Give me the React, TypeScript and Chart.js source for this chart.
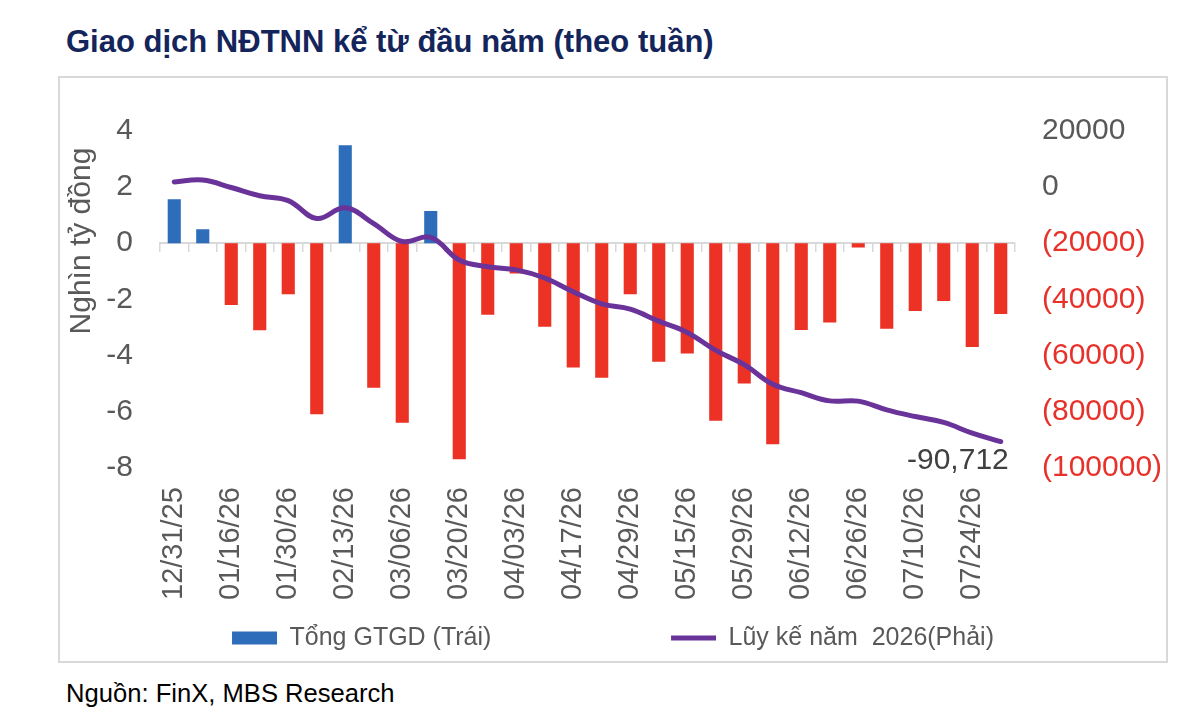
import { useEffect, useRef } from 'react';
import { Chart, registerables } from 'chart.js';

Chart.register(...registerables);

// ---- data ----
const CATEGORIES = [
  '12/31/25', '01/09/26', '01/16/26', '01/23/26', '01/30/26', '02/06/26', '02/13/26', '02/27/26',
  '03/06/26', '03/13/26', '03/20/26', '03/27/26', '04/03/26', '04/10/26', '04/17/26', '04/24/26',
  '04/29/26', '05/08/26', '05/15/26', '05/22/26', '05/29/26', '06/05/26', '06/12/26', '06/19/26',
  '06/26/26', '07/03/26', '07/10/26', '07/17/26', '07/24/26', '07/31/26',
];

// Tổng GTGD (nghìn tỷ đồng), left axis
const NET_VALUE = [
  1.57, 0.5, -2.2, -3.1, -1.82, -6.1, 3.49, -5.15, -6.4, 1.15,
  -7.7, -2.55, -1.08, -2.98, -4.43, -4.8, -1.82, -4.23, -3.93, -6.33,
  -5.0, -7.17, -3.09, -2.83, -0.15, -3.05, -2.42, -2.06, -3.7, -2.52,
];

// Lũy kế năm 2026 (tỷ đồng), right axis
const CUMULATIVE = [
  1850, 2500, -150, -3100, -4800, -11200, -7400, -13000, -19400, -17900,
  -26000, -28400, -29500, -32400, -37300, -41600, -43500, -47800, -51800, -58200,
  -63300, -70300, -73300, -76200, -76300, -79400, -81800, -83900, -87700, -90712,
];

const LEFT_MIN = -8;
const LEFT_MAX = 4;
const LEFT_STEP = 2;
const RIGHT_MIN = -100000;
const RIGHT_MAX = 20000;
const RIGHT_STEP = 20000;

const TITLE = 'Giao dịch NĐTNN kể từ đầu năm (theo tuần)';
const Y_TITLE = 'Nghìn tỷ đồng';
const LEGEND_BAR = 'Tổng GTGD (Trái)';
const LEGEND_LINE = 'Lũy kế năm  2026(Phải)';
const SOURCE = 'Nguồn: FinX, MBS Research';

// ---- styles ----
const FONT = '"Liberation Sans", Arial, Helvetica, sans-serif';
const GRAY = '#595959';
const RED = '#e8312a';
const BAR_RED = '#ec3125';
const BLUE = '#2e6dba';
const PURPLE = '#6a3399';
const BORDER = '#d9d9d9';

export default function App() {
  const canvasRef = useRef<HTMLCanvasElement>(null);

  useEffect(() => {
    const canvas = canvasRef.current;
    if (!canvas) return;

    const lastLabel = {
      id: 'lastLabel',
      afterDatasetsDraw(chart: any) {
        const meta = chart.getDatasetMeta(1);
        const pt = meta.data[meta.data.length - 1];
        if (!pt) return;
        const v = CUMULATIVE[CUMULATIVE.length - 1];
        const ctx = chart.ctx;
        ctx.save();
        ctx.font = `30px ${FONT}`;
        ctx.fillStyle = '#404040';
        ctx.textAlign = 'right';
        ctx.textBaseline = 'middle';
        ctx.fillText(v.toLocaleString('en-US'), pt.x + 8, pt.y + 19);
        ctx.restore();
      },
    };

    const chart = new Chart(canvas, {
      type: 'bar',
      data: {
        labels: CATEGORIES,
        datasets: [
          {
            type: 'bar',
            label: LEGEND_BAR,
            data: NET_VALUE,
            backgroundColor: NET_VALUE.map((v) => (v >= 0 ? BLUE : BAR_RED)),
            borderWidth: 0,
            xAxisID: 'x',
            yAxisID: 'y',
            categoryPercentage: 1,
            barPercentage: 0.46,
            order: 2,
          },
          {
            type: 'line',
            label: LEGEND_LINE,
            data: CUMULATIVE,
            borderColor: PURPLE,
            backgroundColor: PURPLE,
            borderWidth: 5,
            pointRadius: 0,
            tension: 0.4,
            borderCapStyle: 'round',
            xAxisID: 'x',
            yAxisID: 'y1',
            order: 1,
          } as any,
        ],
      },
      options: {
        responsive: false,
        animation: false,
        layout: { padding: { top: 53, bottom: 0.5, left: 0, right: 0 } },
        plugins: {
          tooltip: { enabled: false },
          legend: {
            position: 'bottom',
            align: 'center',
            labels: {
              usePointStyle: true,
              pointStyleWidth: 45,
              boxHeight: 13,
              padding: 6,
              color: GRAY,
              font: { family: FONT, size: 25 },
              generateLabels: () => [
                {
                  text: LEGEND_BAR + '\u00A0'.repeat(25),
                  fillStyle: BLUE,
                  strokeStyle: BLUE,
                  lineWidth: 0,
                  pointStyle: 'rect',
                  datasetIndex: 0,
                  fontColor: GRAY,
                  hidden: false,
                },
                {
                  text: LEGEND_LINE,
                  fillStyle: PURPLE,
                  strokeStyle: PURPLE,
                  lineWidth: 5,
                  pointStyle: 'line',
                  datasetIndex: 1,
                  fontColor: GRAY,
                  hidden: false,
                },
              ] as any,
            },
          },
        },
        scales: {
          x: {
            type: 'category',
            position: 'bottom',
            offset: true,
            grid: { display: false, drawTicks: false },
            border: { display: false },
            ticks: {
              autoSkip: false,
              minRotation: 90,
              maxRotation: 90,
              padding: 19.5,
              color: GRAY,
              font: { family: FONT, size: 29 },
              callback: (_v: any, i: number) => (i % 2 === 0 ? CATEGORIES[i] : ''),
            },
          },
          x0: {
            type: 'category',
            position: { y: 0 } as any,
            offset: true,
            grid: {
              display: true,
              offset: true,
              drawOnChartArea: false,
              drawTicks: true,
              tickLength: 8,
              color: BORDER,
              lineWidth: 1.5,
            },
            border: { display: true, color: BORDER, width: 2 },
            ticks: { display: false },
          },
          y: {
            type: 'linear',
            position: 'left',
            min: LEFT_MIN,
            max: LEFT_MAX,
            grid: { display: false, drawTicks: false },
            border: { display: false },
            ticks: {
              stepSize: LEFT_STEP,
              padding: 27,
              color: GRAY,
              font: { family: FONT, size: 30 },
            },
            title: {
              display: true,
              text: Y_TITLE + '\u00A0\u00A0',
              align: 'end',
              color: GRAY,
              font: { family: FONT, size: 30, lineHeight: 1.2 },
              padding: { top: 4, bottom: 0 },
            },
            afterFit: (s: any) => {
              s.width = 100;
            },
          },
          y1: {
            type: 'linear',
            position: 'right',
            min: RIGHT_MIN,
            max: RIGHT_MAX,
            grid: { display: false, drawTicks: false },
            border: { display: false },
            ticks: {
              stepSize: RIGHT_STEP,
              padding: 27,
              color: (c: any) => (c.tick && c.tick.value < 0 ? RED : GRAY),
              font: { family: FONT, size: 30 },
              callback: (v: any) => (Number(v) < 0 ? `(${-Number(v)})` : `${v}`),
            },
            afterFit: (s: any) => {
              s.width = 151;
            },
          },
        },
      } as any,
      plugins: [lastLabel],
    });

    return () => chart.destroy();
  }, []);

  return (
    <div
      style={{
        position: 'absolute',
        left: 0,
        top: 0,
        width: 1200,
        height: 716,
        background: '#ffffff',
        fontFamily: FONT,
        overflow: 'hidden',
      }}
    >
      <div
        style={{
          position: 'absolute',
          left: 66,
          top: 24,
          fontSize: 31,
          lineHeight: '36px',
          fontWeight: 'bold',
          color: '#14255b',
          whiteSpace: 'nowrap',
        }}
      >
        {TITLE}
      </div>
      <div
        style={{
          position: 'absolute',
          left: 58,
          top: 76,
          width: 1106,
          height: 583,
          border: `2px solid ${BORDER}`,
        }}
      >
        <canvas ref={canvasRef} width={1106} height={583} style={{ display: 'block' }} />
      </div>
      <div
        style={{
          position: 'absolute',
          left: 66,
          top: 678,
          fontSize: 25.6,
          lineHeight: '30px',
          color: '#000000',
          whiteSpace: 'nowrap',
        }}
      >
        {SOURCE}
      </div>
    </div>
  );
}
